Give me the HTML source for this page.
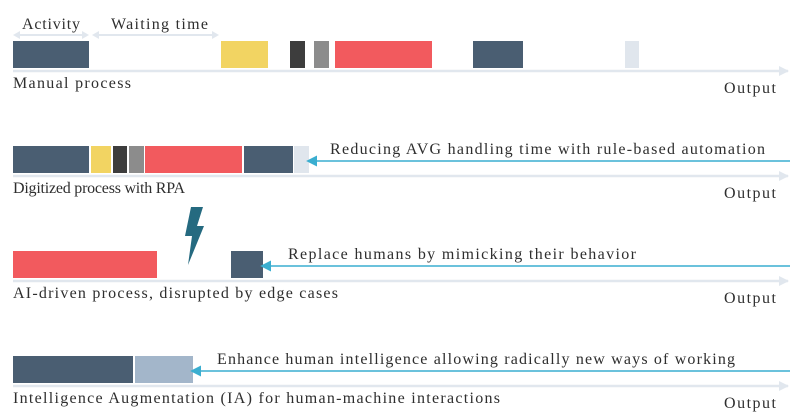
<!DOCTYPE html>
<html><head><meta charset="utf-8"><style>
html,body{margin:0;padding:0;background:#fff;width:800px;height:418px;overflow:hidden}
svg text{font-family:"Liberation Serif",serif;font-size:16px;fill:#2e2e2e}
</style></head><body>
<svg id="chart" width="800" height="418" viewBox="0 0 800 418" xmlns="http://www.w3.org/2000/svg">
<defs>
<marker id="ah" viewBox="0 0 10 10" refX="9" refY="5" markerWidth="10" markerHeight="10" markerUnits="userSpaceOnUse" orient="auto"><path d="M0,0 L10,5 L0,10 z" fill="#e1e7ee"/></marker>
<marker id="bh" viewBox="0 0 10 10" refX="1" refY="5" markerWidth="11" markerHeight="11" markerUnits="userSpaceOnUse" orient="auto-start-reverse"><path d="M0,0 L10,5 L0,10 z" fill="#3aaed0"/></marker>
</defs>
<g id="annot">
<line x1="15" y1="35" x2="87" y2="35" stroke="#e1e7ee" stroke-width="2"/>
<path d="M13,35 l7,-4 v8z M89,35 l-7,-4 v8z M92,35 l7,-4 v8z M219,35 l-7,-4 v8z" fill="#e1e7ee"/>
<line x1="94" y1="35" x2="217" y2="35" stroke="#e1e7ee" stroke-width="2"/>
<text x="22" y="29" textLength="58">Activity</text>
<text x="111" y="29" textLength="97">Waiting time</text>
</g>
<path d="M191,207 L203,207 L197,226 L204,226 L188,265 L192,236 L185,236 z" fill="#256a80"/>
</svg>
<script>
const rowNames=["Manual process","Digitized process with RPA","AI-driven process, disrupted by edge cases","Intelligence Augmentation (IA) for human-machine interactions"];
const rowTop=[41,146,251,356];
const segStart=[[13,221,290,314,335,473,625],[13,91,113,129,145,244,294],[13,231],[13,135]];
const segEnd=[[89,268,305,329,432,523,639],[89,111,127,144,242,293,309],[157,263],[133,193]];
const segType=[["act","wait1","wait2","wait3","red","act","light"],["act","wait1","wait2","wait3","red","act","light"],["red","act"],["act","aug"]];
const notes=["","Reducing AVG handling time with rule-based automation","Replace humans by mimicking their behavior","Enhance human intelligence allowing radically new ways of working"];
const noteX=[0,330,288,217];
const noteW=[0,435,348,518];
const colors={act:"#4a5e72",wait1:"#f2d462",wait2:"#3d3d3d",wait3:"#8c8c8c",red:"#f25a5e",light:"#e0e6ed",aug:"#a3b6ca"};
const svg=document.getElementById('chart');
const NS="http://www.w3.org/2000/svg";
const labelW=[118,172,325,487];
function mk(t,a){const e=document.createElementNS(NS,t);for(const k in a)e.setAttribute(k,a[k]);svg.appendChild(e);return e;}
rowTop.forEach((top,i)=>{
  const h=27;
  segStart[i].forEach((s,j)=>{
    const r=mk('rect',{x:s,y:top,width:segEnd[i][j]-s,height:h,fill:colors[segType[i][j]]});
    
    
  });
  const ax=mk('line',{x1:13,y1:top+h+3,x2:788,y2:top+h+3,stroke:'#e1e7ee','stroke-width':2.5,'marker-end':'url(#ah)'});
  
  
  const lb=mk('text',{x:13,y:top+h+20,textLength:labelW[i]});lb.textContent=rowNames[i];
  
  
  const op=mk('text',{x:724,y:top+h+25,textLength:52});op.textContent="Output";
  
  
  if(notes[i]){
    const last=segEnd[i][segEnd[i].length-1];
    const ln=mk('line',{x1:790,y1:top+15,x2:last+7,y2:top+15,stroke:'#3aaed0','stroke-width':1.5,'marker-end':'url(#bh)'});
    
    
    const nt=mk('text',{x:noteX[i],y:top+8,textLength:noteW[i]});nt.textContent=notes[i];
    
    
  }
});
</script>
</body></html>
